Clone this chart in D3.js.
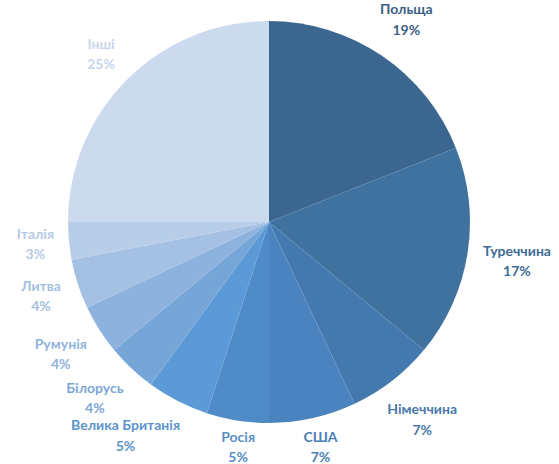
<!DOCTYPE html>
<html>
<head>
<meta charset="utf-8">
<script src="https://cdn.jsdelivr.net/npm/d3@7"></script>
<style>
  html, body { margin: 0; padding: 0; background: #fff; }
  svg { display: block; }
</style>
</head>
<body>
<svg id="chart" width="559" height="464"></svg>
<script>
const categories = ["Польща", "Туреччина", "Німеччина", "США", "Росія", "Велика Британія", "Білорусь", "Румунія", "Литва", "Італія", "Інші"];
const shares = [19, 17, 7, 7, 5, 5, 4, 4, 4, 3, 25];
const sliceColors = ["#3b6690", "#40729f", "#4479b0", "#4a83bd", "#4f8bc7", "#5b9ad6", "#76a5d8", "#8db2de", "#a4c0e3", "#b8cde8", "#ccdaee"];
const labelColors = ["#3d5f84", "#406c97", "#4a78aa", "#4c80b6", "#5a8ec6", "#5d93cc", "#7ea6d4", "#8fb2dc", "#a3bfe0", "#b6cae6", "#c8d5ea"];

const W = 559, H = 464;
const svg = d3.select("#chart");
const cx = 269, cy = 222, radius = 201;
const gap = 14;

const pie = d3.pie().value(d => d).sort(null);
const arc = d3.arc().innerRadius(0).outerRadius(radius);
const arcs = pie(shares);

const g = svg.append("g").attr("transform", `translate(${cx},${cy})`);

g.selectAll("path.slice")
  .data(arcs)
  .join("path")
  .attr("class", "slice")
  .attr("d", arc)
  .attr("fill", (d, i) => sliceColors[i]);

const labels = g.selectAll("g.lbl")
  .data(arcs)
  .join("g")
  .attr("class", "lbl");

const font = "Lato, 'Open Sans', sans-serif";
labels.append("text")
  .attr("text-anchor", "middle")
  .attr("y", -5.5)
  .attr("font-family", font)
  .attr("font-weight", "bold")
  .attr("font-size", 14)
  .attr("fill", (d, i) => labelColors[i])
  .text((d, i) => categories[i]);

labels.append("text")
  .attr("text-anchor", "middle")
  .attr("y", 15)
  .attr("font-family", font)
  .attr("font-weight", "bold")
  .attr("font-size", 14)
  .attr("fill", (d, i) => labelColors[i])
  .text((d, i) => shares[i] + "%");

// measure label boxes
const boxes = [];
labels.each(function () {
  const b = this.getBBox();
  boxes.push({ w: b.width, h: 36 });
});

// place a box along direction 'a' so it just clears the pie by 'gap'
function place(a, w, h) {
  const dx = Math.sin(a), dy = -Math.cos(a);
  let lo = 0, hi = 500;
  for (let k = 0; k < 40; k++) {
    const t = (lo + hi) / 2;
    const x = t * dx, y = t * dy;
    const nx = Math.max(x - w / 2, Math.min(0, x + w / 2));
    const ny = Math.max(y - h / 2, Math.min(0, y + h / 2));
    if (Math.hypot(nx, ny) >= radius + gap) hi = t; else lo = t;
  }
  return { x: hi * dx, y: Math.min(H - cy - 17, hi * dy) };
}

const angles = arcs.map(d => (d.startAngle + d.endAngle) / 2);
function overlap(i, j) {
  const p = place(angles[i], boxes[i].w, boxes[i].h);
  const q = place(angles[j], boxes[j].w, boxes[j].h);
  return Math.abs(p.x - q.x) < (boxes[i].w + boxes[j].w) / 2 + 40 &&
         Math.abs(p.y - q.y) < (boxes[i].h + boxes[j].h) / 2 + 1;
}
for (let it = 0; it < 400; it++) {
  let moved = false;
  for (let i = 0; i < angles.length - 1; i++) {
    if (overlap(i, i + 1)) {
      angles[i] -= 0.001;
      angles[i + 1] += 0.005;
      moved = true;
    }
  }
  if (!moved) break;
}

labels.attr("transform", (d, i) => {
  const p = place(angles[i], boxes[i].w, boxes[i].h);
  const x = Math.max(boxes[i].w / 2 - cx, Math.min(W - cx - boxes[i].w / 2, p.x));
  return `translate(${x},${p.y})`;
});
</script>
</body>
</html>
